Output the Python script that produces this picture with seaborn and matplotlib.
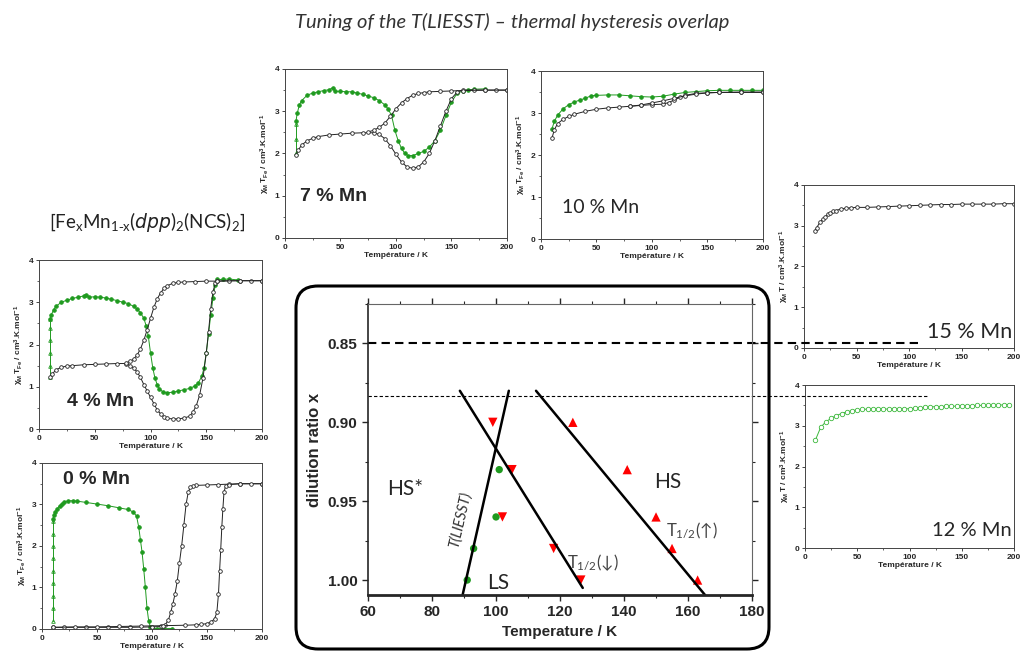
import matplotlib
matplotlib.use("Agg")
import matplotlib.pyplot as plt
from matplotlib.patches import FancyBboxPatch
from matplotlib.transforms import IdentityTransform
from matplotlib.ticker import MultipleLocator
import seaborn as sns

### DATA ###

# 7 % Mn
T7_heat = [10, 12, 15, 20, 25, 30, 40, 50, 60, 70, 80, 85, 90, 95, 100, 105, 110, 115, 120, 125, 130,
           135, 140, 145, 150, 155, 160, 170, 180, 190, 200]
chi7_heat = [1.97, 2.08, 2.2, 2.3, 2.36, 2.4, 2.44, 2.46, 2.48, 2.49, 2.49, 2.45, 2.35, 2.18, 1.98, 1.8,
             1.68, 1.65, 1.68, 1.8, 2.0, 2.3, 2.65, 3.0, 3.3, 3.45, 3.5, 3.5, 3.5, 3.5, 3.5]
T7_cool = [200, 180, 160, 150, 140, 130, 125, 120, 115, 110, 105, 100, 95, 90, 85, 80, 75]
chi7_cool = [3.5, 3.5, 3.49, 3.48, 3.47, 3.46, 3.44, 3.42, 3.38, 3.3, 3.2, 3.06, 2.88, 2.72, 2.62, 2.55, 2.51]
T7_irr = [10, 10, 10]
chi7_irr = [2.0, 2.35, 2.7]
T7_liesst = [10, 11, 13, 15, 20, 25, 30, 35, 40, 43, 45, 50, 55, 60, 65, 70, 75, 80, 85, 90, 93, 96, 99,
             102, 105, 108, 111, 115, 120, 125, 130, 135, 140, 145, 150, 155, 160, 165, 170, 180]
chi7_liesst = [2.78, 2.95, 3.15, 3.25, 3.38, 3.43, 3.46, 3.49, 3.51, 3.56, 3.47, 3.47, 3.46, 3.46, 3.43,
               3.4, 3.36, 3.32, 3.25, 3.15, 3.05, 2.9, 2.55, 2.3, 2.12, 2.0, 1.95, 1.95, 2.0, 2.05, 2.15,
               2.3, 2.55, 2.9, 3.22, 3.42, 3.48, 3.5, 3.52, 3.53]

# 10 % Mn
T10_liesst = [10, 12, 15, 20, 25, 30, 35, 40, 45, 50, 60, 70, 80, 90, 100, 110, 120, 130, 140, 150, 160,
              170, 180, 190, 200]
chi10_liesst = [2.63, 2.8, 2.95, 3.1, 3.2, 3.26, 3.31, 3.35, 3.41, 3.42, 3.43, 3.43, 3.41, 3.39, 3.38,
                3.4, 3.45, 3.49, 3.51, 3.53, 3.54, 3.54, 3.54, 3.54, 3.54]
T10_heat = [10, 12, 15, 20, 25, 30, 40, 50, 60, 70, 80, 90, 100, 110, 115, 120, 125, 130, 140, 150, 160,
            180, 200]
chi10_heat = [2.41, 2.6, 2.75, 2.85, 2.92, 2.97, 3.04, 3.09, 3.12, 3.14, 3.16, 3.18, 3.2, 3.21, 3.25,
              3.31, 3.37, 3.42, 3.47, 3.48, 3.49, 3.49, 3.49]
T10_cool = [200, 180, 160, 150, 140, 130, 120, 110, 100, 90, 80]
chi10_cool = [3.5, 3.5, 3.49, 3.48, 3.45, 3.41, 3.35, 3.29, 3.24, 3.19, 3.16]

# 15 % Mn
T15 = [10, 12, 15, 18, 20, 23, 25, 28, 30, 35, 40, 45, 50, 60, 70, 80, 90, 100, 110, 120, 130, 140, 150,
       160, 170, 180, 190, 200]
chi15 = [2.86, 2.95, 3.08, 3.17, 3.22, 3.28, 3.31, 3.35, 3.37, 3.41, 3.43, 3.44, 3.45, 3.45, 3.46, 3.47,
         3.48, 3.49, 3.5, 3.51, 3.52, 3.52, 3.53, 3.53, 3.53, 3.53, 3.54, 3.54]

# 12 % Mn
T12 = [10, 15, 20, 25, 30, 35, 40, 45, 50, 55, 60, 65, 70, 75, 80, 85, 90, 95, 100, 105, 110, 115, 120,
       125, 130, 135, 140, 145, 150, 155, 160, 165, 170, 175, 180, 185, 190, 195]
chi12 = [2.65, 2.96, 3.1, 3.18, 3.25, 3.3, 3.34, 3.37, 3.39, 3.4, 3.41, 3.41, 3.41, 3.41, 3.41, 3.41,
         3.41, 3.41, 3.42, 3.43, 3.44, 3.45, 3.46, 3.47, 3.47, 3.48, 3.48, 3.48, 3.49, 3.49, 3.49, 3.5,
         3.5, 3.5, 3.5, 3.51, 3.51, 3.52]

# 4 % Mn
T4_heat = [10, 12, 15, 20, 25, 30, 40, 50, 60, 70, 78, 82, 85, 88, 91, 94, 97, 100, 103, 106, 109, 112,
           115, 120, 125, 130, 135, 138, 141, 144, 147, 150, 152, 154, 156, 158, 160, 170, 180, 190, 200]
chi4_heat = [1.22, 1.3, 1.4, 1.46, 1.49, 1.5, 1.52, 1.53, 1.54, 1.55, 1.55, 1.5, 1.44, 1.35, 1.22, 1.05,
             0.9, 0.75, 0.6, 0.45, 0.36, 0.29, 0.25, 0.24, 0.24, 0.26, 0.3, 0.4, 0.55, 0.8, 1.2, 1.8,
             2.3, 2.85, 3.25, 3.45, 3.5, 3.51, 3.51, 3.51, 3.51]
T4_cool = [200, 180, 160, 150, 140, 130, 125, 120, 115, 112, 109, 106, 103, 100, 97, 94, 91, 88, 85, 82, 78]
chi4_cool = [3.51, 3.51, 3.5, 3.5, 3.49, 3.48, 3.47, 3.45, 3.39, 3.33, 3.22, 3.08, 2.88, 2.62, 2.35,
             2.1, 1.9, 1.75, 1.66, 1.6, 1.57]
T4_irr = [10, 10, 10, 10, 10, 10]
chi4_irr = [1.22, 1.5, 1.8, 2.1, 2.4, 2.6]
T4_liesst = [10, 11, 13, 15, 20, 25, 30, 35, 40, 42, 45, 50, 55, 60, 65, 70, 75, 80, 85, 88, 91, 94, 96,
             98, 100, 102, 104, 106, 108, 111, 115, 120, 125, 130, 135, 140, 143, 146, 148, 150, 152,
             154, 156, 158, 160, 165, 170, 178]
chi4_liesst = [2.6, 2.7, 2.82, 2.9, 3.0, 3.05, 3.09, 3.12, 3.15, 3.18, 3.12, 3.13, 3.12, 3.1, 3.07, 3.04,
               3.0, 2.97, 2.9, 2.84, 2.75, 2.62, 2.45, 2.2, 1.8, 1.45, 1.2, 1.05, 0.95, 0.88, 0.86, 0.87,
               0.9, 0.93, 0.96, 1.02, 1.1, 1.25, 1.45, 1.8, 2.25, 2.7, 3.1, 3.4, 3.54, 3.54, 3.55, 3.53]

# 0 % Mn
T0_irr = [10, 10, 10, 10, 10, 10, 10, 10, 10]
chi0_irr = [0.2, 0.5, 0.8, 1.1, 1.4, 1.7, 2.0, 2.3, 2.6]
T0_liesst = [10, 11, 12, 14, 16, 18, 20, 24, 28, 32, 40, 50, 60, 70, 78, 83, 86, 88, 89.5, 91, 92.5, 94,
             95.5, 97, 98.5, 100, 105, 110, 118]
chi0_liesst = [2.66, 2.75, 2.82, 2.9, 2.97, 3.02, 3.06, 3.09, 3.09, 3.08, 3.05, 3.01, 2.97, 2.92, 2.88,
               2.82, 2.72, 2.45, 2.15, 1.85, 1.45, 1.0, 0.5, 0.2, 0.05, 0.02, 0.01, 0.01, 0.01]
T0_cool = [200, 180, 170, 160, 150, 140, 137, 135, 133, 131, 129, 127, 125, 123, 121, 119, 117, 115,
           112, 108, 100, 80, 60, 40, 20, 10]
chi0_cool = [3.5, 3.5, 3.49, 3.48, 3.47, 3.46, 3.45, 3.42, 3.3, 3.0, 2.5, 2.0, 1.6, 1.15, 0.85, 0.6, 0.4,
             0.22, 0.1, 0.06, 0.05, 0.04, 0.04, 0.04, 0.04, 0.04]
T0_heat = [10, 30, 50, 70, 90, 110, 130, 140, 145, 150, 154, 157, 159, 160.5, 161.5, 162.5, 163.5,
           164.5, 165.5, 167, 170, 180, 190, 200]
chi0_heat = [0.04, 0.05, 0.05, 0.06, 0.07, 0.08, 0.09, 0.1, 0.11, 0.13, 0.17, 0.25, 0.4, 0.85, 1.4, 1.9,
             2.45, 2.9, 3.3, 3.45, 3.48, 3.5, 3.5, 3.5]

# phase diagram
x_levels = [0.90, 0.93, 0.96, 0.98, 1.00]
T_half_down = [99, 105, 102, 118, 126.5]
T_half_up = [124, 141, 150, 155, 163]
x_liesst = [0.93, 0.96, 0.98, 1.00]
T_liesst = [101, 100, 93, 91]
fit_liesst_T, fit_liesst_x = [89.5, 104], [1.01, 0.88]
fit_down_T, fit_down_x = [88.7, 127.1], [0.88, 1.005]
fit_up_T, fit_up_x = [112.5, 165.4], [0.88, 1.0097]
dil_15, dil_12 = 0.85, 0.883

BLACK = '#222222'
GREEN = '#1f9a1f'
GREEN_LIGHT = '#3cb83c'
LATO = ['Lato', 'DejaVu Sans']

sns.set_style("ticks")
plt.rcParams['font.family'] = ['Liberation Sans', 'DejaVu Sans']
plt.rcParams['mathtext.default'] = 'regular'

fig = plt.figure(figsize=(10.24, 6.52), dpi=100)

YLAB_FE = r'$\chi_M\,T_{Fe}$ / cm$^3$.K.mol$^{-1}$'
YLAB_M = r'$\chi_M\,T$ / cm$^3$.K.mol$^{-1}$'


def trace(ax, T, chi, color, face, marker='o', ms=2.6):
    sns.lineplot(x=T, y=chi, sort=False, estimator=None, ax=ax, color=color, marker=marker,
                 markersize=ms, markerfacecolor=face, markeredgecolor=color,
                 markeredgewidth=0.6, linewidth=0.7)


def finish_small(ax, ylabel):
    ax.set_xlim(0, 200)
    ax.set_ylim(0, 4)
    ax.xaxis.set_major_locator(MultipleLocator(50))
    ax.xaxis.set_minor_locator(MultipleLocator(25))
    ax.yaxis.set_major_locator(MultipleLocator(1))
    ax.yaxis.set_minor_locator(MultipleLocator(0.5))
    ax.tick_params(labelsize=6, length=2.5, width=0.6, pad=1.5)
    ax.tick_params(which='minor', length=1.5, width=0.5)
    plt.setp(ax.get_xticklabels(), fontweight='bold')
    plt.setp(ax.get_yticklabels(), fontweight='bold')
    ax.set_xlabel('Température / K', fontsize=6, fontweight='bold', labelpad=1)
    ax.set_ylabel(ylabel, fontsize=6, fontweight='bold', labelpad=2)
    for s in ax.spines.values():
        s.set_linewidth(0.7)
        s.set_color('#444444')


# 7 % Mn
ax = fig.add_axes([0.2783, 0.6350, 0.2168, 0.2592])
trace(ax, T7_irr, chi7_irr, GREEN, 'none', marker='^')
trace(ax, T7_liesst, chi7_liesst, GREEN, GREEN)
trace(ax, T7_heat, chi7_heat, BLACK, 'white')
trace(ax, T7_cool, chi7_cool, BLACK, 'white')
finish_small(ax, YLAB_FE)
ax.text(0.068, 0.243, '7 % Mn', transform=ax.transAxes, fontsize=14, fontweight='bold', va='center')

# 10 % Mn
ax = fig.add_axes([0.5283, 0.6334, 0.2168, 0.2577])
trace(ax, T10_liesst, chi10_liesst, GREEN, GREEN)
trace(ax, T10_heat, chi10_heat, BLACK, 'white')
trace(ax, T10_cool, chi10_cool, BLACK, 'white')
finish_small(ax, YLAB_FE)
ax.text(0.095, 0.185, '10 % Mn', transform=ax.transAxes, fontsize=14, family=LATO, va='center')

# 15 % Mn
ax = fig.add_axes([0.7852, 0.4663, 0.2051, 0.2500])
trace(ax, T15, chi15, BLACK, 'white')
finish_small(ax, YLAB_M)
ax.text(0.99, 0.098, '15 % Mn', transform=ax.transAxes, fontsize=15.5, family=LATO, va='center', ha='right')

# 12 % Mn
ax = fig.add_axes([0.7861, 0.1595, 0.2042, 0.2500])
trace(ax, T12, chi12, GREEN_LIGHT, 'white', ms=3.2)
finish_small(ax, YLAB_M)
ax.text(0.99, 0.11, '12 % Mn', transform=ax.transAxes, fontsize=14.5, family=LATO, va='center', ha='right')

# 4 % Mn
ax = fig.add_axes([0.0381, 0.3420, 0.2178, 0.2592])
trace(ax, T4_irr, chi4_irr, GREEN, 'none', marker='^')
trace(ax, T4_liesst, chi4_liesst, GREEN, GREEN)
trace(ax, T4_heat, chi4_heat, BLACK, 'white')
trace(ax, T4_cool, chi4_cool, BLACK, 'white')
finish_small(ax, YLAB_FE)
ax.text(0.126, 0.16, '4 % Mn', transform=ax.transAxes, fontsize=14, fontweight='bold', va='center')

# 0 % Mn
ax = fig.add_axes([0.0410, 0.0353, 0.2148, 0.2546])
trace(ax, T0_irr, chi0_irr, GREEN, 'none', marker='^')
trace(ax, T0_liesst, chi0_liesst, GREEN, GREEN)
trace(ax, T0_cool, chi0_cool, BLACK, 'white')
trace(ax, T0_heat, chi0_heat, BLACK, 'white')
finish_small(ax, YLAB_FE)
ax.text(0.095, 0.898, '0 % Mn', transform=ax.transAxes, fontsize=14, fontweight='bold', va='center')

# phase diagram (central)
axc = fig.add_axes([0.3594, 0.0874, 0.375, 0.4463])
axc.plot(fit_liesst_T, fit_liesst_x, color='black', lw=1.8)
axc.plot(fit_down_T, fit_down_x, color='black', lw=1.8)
axc.plot(fit_up_T, fit_up_x, color='black', lw=1.8)
sns.scatterplot(x=T_half_down, y=x_levels, marker='v', color='red', s=45, edgecolor='none', ax=axc)
sns.scatterplot(x=T_half_up, y=x_levels, marker='^', color='red', s=45, edgecolor='none', ax=axc)
sns.scatterplot(x=T_liesst, y=x_liesst, marker='o', color=GREEN, s=28, edgecolor='none', ax=axc)
axc.plot([60, 231.9], [dil_15, dil_15], color='black', lw=1.5, ls=(0, (4, 2.5)), clip_on=False)
axc.plot([60, 234.7], [dil_12, dil_12], color='black', lw=0.8, ls=(0, (3, 2)), clip_on=False)
axc.set_xlim(60, 180)
axc.set_ylim(1.0095, 0.825)
axc.xaxis.set_major_locator(MultipleLocator(20))
axc.xaxis.set_minor_locator(MultipleLocator(10))
axc.yaxis.set_major_locator(MultipleLocator(0.05))
axc.yaxis.set_minor_locator(MultipleLocator(0.025))
axc.set_yticks([0.85, 0.90, 0.95, 1.00])
axc.set_yticklabels(['0.85', '0.90', '0.95', '1.00'])
axc.tick_params(labelsize=11, length=4, width=1, top=True, right=True)
axc.tick_params(which='minor', length=2.5, width=0.8, top=True, right=True)
plt.setp(axc.get_xticklabels(), fontweight='bold')
plt.setp(axc.get_yticklabels(), fontweight='bold')
axc.set_xlabel('Temperature / K', fontsize=11, fontweight='bold', labelpad=4)
axc.set_ylabel('dilution ratio x', fontsize=12, fontweight='bold', labelpad=4)
axc.spines['bottom'].set_linewidth(2)
axc.spines['left'].set_linewidth(1.2)
axc.spines['top'].set_color('#666666')
axc.spines['right'].set_color('#666666')
axc.spines['top'].set_linewidth(0.8)
axc.spines['right'].set_linewidth(0.8)

axc.text(71.5, 0.9425, 'HS*', fontsize=15, family=LATO, ha='center', va='center')
axc.text(153.6, 0.938, 'HS', fontsize=15, family=LATO, ha='center', va='center')
axc.text(100.7, 1.002, 'LS', fontsize=15, family=LATO, ha='center', va='center')
axc.text(88.7, 0.962, 'T(LIESST)', fontsize=10.5, family=LATO, style='italic', rotation=77,
         ha='center', va='center', color='#333333')
axc.text(130.4, 0.989, r'T$_{1/2}$(↓)', fontsize=12, family=LATO, ha='center', va='center', color='#444444')
axc.text(161.2, 0.968, r'T$_{1/2}$(↑)', fontsize=12, family=LATO, ha='center', va='center', color='#444444')

# rounded frame around the phase diagram (pixel coords)
frame = FancyBboxPatch((296, 3), 473, 363, boxstyle='round,pad=0,rounding_size=22',
                       transform=IdentityTransform(), fill=False, lw=2.2, ec='black')
fig.add_artist(frame)

fig.text(0.5, 0.966, 'Tuning of the T(LIESST) – thermal hysteresis overlap', ha='center', va='center',
         fontsize=14.5, family=LATO, style='italic', color='#333333')
fig.text(0.1435, 0.66, r'[Fe$_x$Mn$_{1\text{-}x}$($\it{dpp}$)$_2$(NCS)$_2$]', ha='center', va='center',
         fontsize=13.5, family=LATO, color='#222222')

fig.savefig('out.png', dpi=100)
